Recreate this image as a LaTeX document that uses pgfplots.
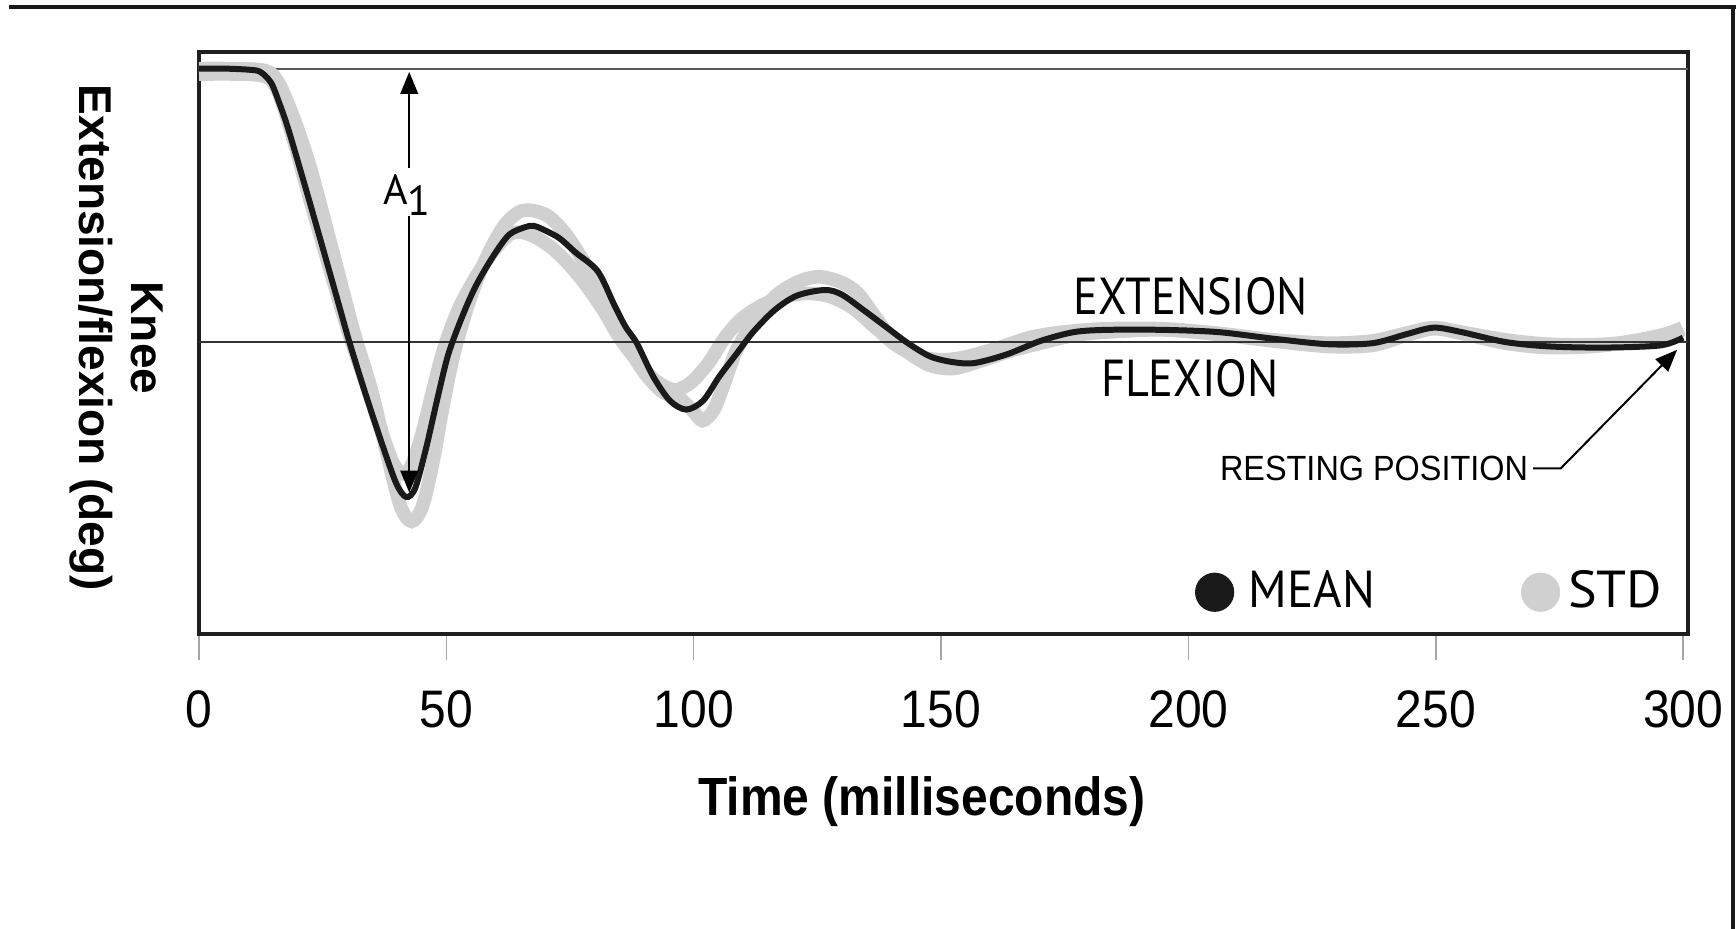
\documentclass[border=0pt]{standalone}
\usepackage{fontspec}
\setmainfont{Liberation Sans}
\newfontfamily\myr{PT Sans}
\usepackage{pgfplots}
\pgfplotsset{compat=1.18}
\usetikzlibrary{arrows.meta}
\definecolor{stdgray}{RGB}{208,208,208}
\definecolor{meanblk}{RGB}{26,26,26}
\newcommand{\nar}[1]{\scalebox{0.89}[1]{#1}}

\begin{document}
\begin{tikzpicture}
\path[use as bounding box] (0,0) rectangle (434pt,232.25pt);
\begin{axis}[
  at={(49.75pt,73.75pt)}, anchor=south west,
  scale only axis, width=372.25pt, height=145.5pt,
  xmin=0, xmax=301, ymin=-26.37, ymax=26.2,
  xtick={0,50,...,300}, ytick=\empty,
  xtick pos=bottom, tick align=outside, major tick length=6.5pt,
  tick style={color=black!35, line width=0.4pt},
  axis line style={line width=1.1pt, color=black!88},
  /pgf/number format/assume math mode=true,
  xticklabel={\scalebox{1}[1.1]{\pgfmathprintnumber{\tick}}},
  xticklabel style={font=\fontsize{12}{14}\selectfont, yshift=-4.2pt},
  every axis x label/.style={at={(axis description cs:0.4856,-0.2875)},anchor=center,font=\bfseries\fontsize{12}{14}\selectfont},
  every axis y label/.style={at={(axis description cs:-0.0555,0.5086)},rotate=-90,anchor=center,align=center,font=\bfseries\fontsize{11.5}{12.8}\selectfont},
  xlabel={\scalebox{1}[1.12]{Time (milliseconds)}},
  ylabel={Knee\\Extension/flexion (deg)},
  legend style={draw=none, fill=none, inner sep=0pt, legend columns=-1,
    at={(axis description cs:0.6684,0.0717)}, anchor=west,
    font=\myr\fontsize{13}{15}\selectfont,
    /tikz/every even column/.append style={column sep=34.5pt}},
]
\addlegendimage{legend image code/.code={\fill[meanblk] (0pt,0pt) circle[radius=4.7pt];}}
\addlegendentry{\hspace{1.6pt}\scalebox{0.94}[1]{MEAN}}
\addlegendimage{legend image code/.code={\fill[stdgray] (0pt,0pt) circle[radius=4.7pt];}}
\addlegendentry{\scalebox{1.04}[1]{STD}}

% reference line (initial position)
\addplot[forget plot, black!65, line width=0.4pt] coordinates {(0,24.67) (301,24.67)};

% STD band (outer)
\addplot[forget plot, stdgray, line width=3.4pt, smooth, tension=0.5] coordinates {
(0,24.7) (12.3,24.6) (15.7,23.7) (19.0,20.4) (22.4,15.9) (26.9,8.4) (31.3,0.9) (34.7,-4.1)
(38.0,-10.1) (40.7,-14.8) (43.0,-16.2) (45.2,-14.8) (47.4,-10.6) (49.2,-6.1) (51.5,-1.1)
(54.8,3.9) (58.2,7.7) (61.5,10.4) (64.5,11.7) (67.1,11.9) (70.5,11.4) (73.9,9.9) (77.2,7.7)
(80.6,5.1) (83.9,1.9) (87.3,-0.9) (90.6,-3.1) (94.0,-4.6) (96.7,-4.9) (99.6,-6.1) (101.8,-7.1)
(104.1,-6.1) (106.3,-3.6) (108.5,-0.9) (111.9,1.7) (116.4,4.1) (120.9,5.4) (125.3,5.9)
(129.8,5.4) (133.2,4.4) (136.5,2.4) (139.9,0.4) (143.2,-0.9) (147.7,-2.1) (152.2,-2.4)
(156.7,-1.9) (163.4,-0.9) (170.1,-0.1) (176.8,0.6) (183.5,0.9) (194.7,1.1) (205.9,0.7)
(217.1,0.1) (228.3,-0.4) (237.2,-0.3) (244.0,0.6) (249.6,1.2) (255.1,0.8) (264.1,-0.1)
(273.0,-0.5) (284.2,-0.3) (295.4,0.6) (299.9,1.3)
};
% STD band (inner)
\addplot[forget plot, stdgray, line width=3.4pt, smooth, tension=0.5] coordinates {
(0,24.2) (12.3,24.1) (15.7,22.9) (19.0,18.4) (22.4,12.9) (26.9,5.9) (30.2,0.9) (33.6,-3.6)
(36.9,-8.1) (39.2,-10.9) (41.2,-11.9) (43.0,-11.1) (45.2,-8.1) (47.4,-4.1) (49.7,-0.3)
(52.6,3.1) (56.0,5.9) (59.3,8.1) (62.7,9.7) (65.4,9.9) (68.3,9.4) (71.6,8.4) (75.0,6.9)
(78.3,5.1) (81.7,2.9) (85.0,0.4) (88.4,-1.6) (91.8,-3.3) (94.5,-4.1) (96.7,-4.3) (99.6,-3.6)
(103.0,-1.9) (106.3,0.4) (109.7,2.1) (114.1,3.4) (118.6,4.1) (123.1,4.4) (127.6,4.1)
(132.1,3.1) (136.5,1.4) (141.0,-0.3) (145.5,-1.3) (150.0,-1.6) (154.4,-1.4) (161.1,-0.6)
(167.9,0.4) (174.6,0.9) (183.5,1.2) (194.7,1.2) (205.9,0.8) (217.1,0.2) (228.3,-0.1)
(237.2,0.1) (244.0,0.8) (249.6,1.3) (255.1,0.9) (264.1,0.2) (273.0,-0.2) (284.2,-0.2)
(295.4,0.4) (299.9,1.1)
};

% resting line
\addplot[forget plot, black!80, line width=0.5pt] coordinates {(0,0) (301,0)};

% MEAN
\addplot[forget plot, meanblk, line width=1.5pt, smooth, tension=0.5] coordinates {
(0,24.7) (5,24.7) (10,24.6) (12.4,24.4) (14.6,23.4) (16.3,21.5) (18.0,19.3) (21.3,14.3)
(24.7,9.0) (28.0,3.8) (30.4,0) (33.6,-4.6) (37.0,-9.2) (39.9,-12.8) (41.9,-14.0) (43.7,-13.2)
(45.9,-9.6) (48.2,-5.1) (50.4,-1.1) (53.3,2.4) (56.0,5.1) (59.4,7.7) (62.7,9.7) (66.1,10.4)
(67.6,10.5) (69.4,10.2) (72.8,9.4) (76.1,8.1) (80.6,6.4) (83.9,3.4) (86.2,1.4) (88.5,-0.1)
(91.8,-3.1) (95.2,-5.3) (98.5,-6.1) (101.9,-5.3) (105.2,-3.1) (108.6,-1.1) (112.0,0.9)
(116.4,2.9) (120.9,4.2) (126.5,4.7) (129.9,4.3) (134.3,2.9) (138.8,1.4) (143.3,-0.1)
(147.8,-1.3) (152.2,-1.8) (156.7,-1.9) (163.4,-1.1) (170.1,0.1) (176.9,0.9) (183.6,1.1)
(194.8,1.1) (206.0,0.9) (217.2,0.3) (228.3,-0.2) (237.3,-0.1) (244.0,0.7) (249.6,1.3)
(255.2,0.9) (264.1,0.0) (273.1,-0.4) (284.3,-0.5) (295.5,-0.3) (300.0,0.4)
};

% A1 arrow
\draw[black, line width=0.5pt, {Triangle[length=5.5pt,width=4.4pt]}-] (axis cs:42.5,24.4) -- (axis cs:42.5,15.7);
\draw[black, line width=0.5pt, -{Triangle[length=5.5pt,width=4.4pt]}] (axis cs:42.5,11.4) -- (axis cs:42.5,-13.6);
\node[font=\myr\fontsize{10.5}{12}\selectfont, inner sep=0pt] at (axis cs:42.0,13.3) {A\raisebox{-2.75pt}{1}};

% annotations
\node[font=\myr\fontsize{13}{15}\selectfont, inner sep=0pt] at (axis cs:200.5,4.1) {\nar{EXTENSION}};
\node[font=\myr\fontsize{13}{15}\selectfont, inner sep=0pt] at (axis cs:200.3,-3.3) {\nar{FLEXION}};
\node[font=\fontsize{8.1}{10}\selectfont, inner sep=0pt, anchor=east] at (axis cs:268.8,-11.4) {\scalebox{1}[1.08]{RESTING POSITION}};
\draw[black, line width=0.5pt, -{Triangle[length=5.5pt,width=4.4pt]}] (axis cs:269.7,-11.4) -- (axis cs:275.3,-11.4) -- (axis cs:298.8,-0.7);
\end{axis}
\draw[line width=1pt, black!90] (2.25pt,230.5pt) -- (434pt,230.5pt);
\draw[line width=1pt, black!90] (433.25pt,231pt) -- (433.25pt,0pt);
\end{tikzpicture}
\end{document}
